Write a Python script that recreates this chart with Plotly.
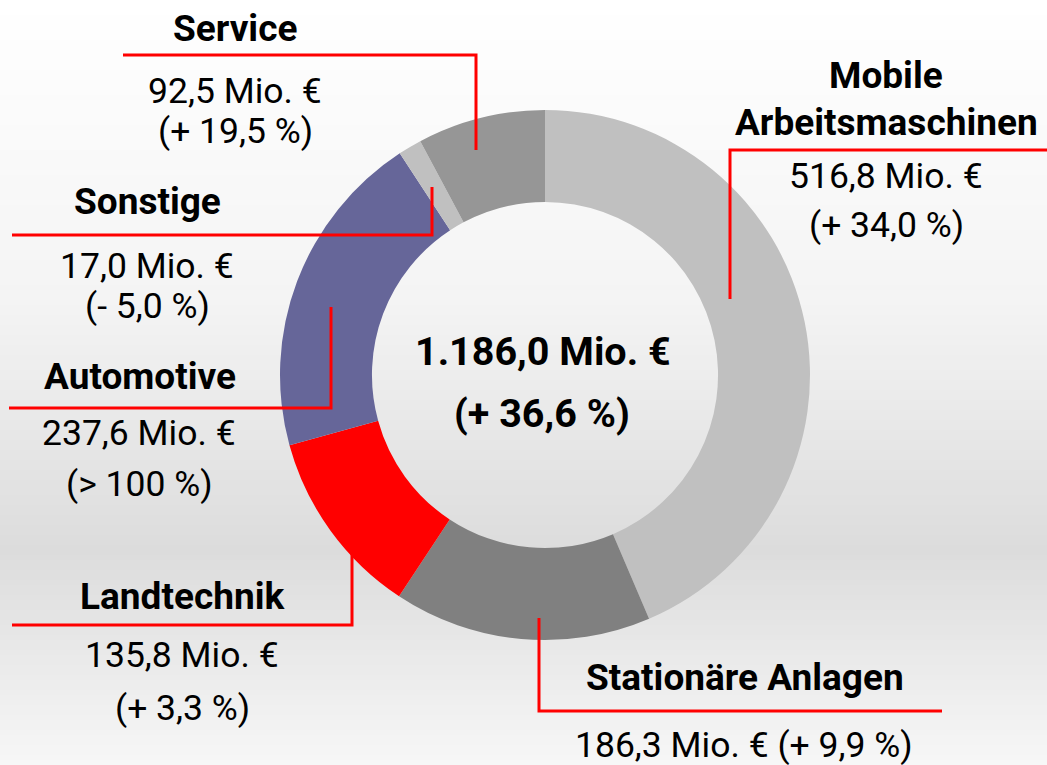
import plotly.graph_objects as go

W, H = 1047, 765

# Umsatz nach Segmenten (Mio. EUR), im Uhrzeigersinn ab 12 Uhr
segments = ["Mobile Arbeitsmaschinen", "Stationäre Anlagen", "Landtechnik",
            "Automotive", "Sonstige", "Service"]
values = [516.8, 186.3, 135.8, 237.6, 17.0, 92.5]
changes = ["+ 34,0 %", "+ 9,9 %", "+ 3,3 %", "> 100 %", "- 5,0 %", "+ 19,5 %"]
colors = ["#c0c0c0", "#808080", "#ff0000", "#666699", "#c0c0c0", "#969696"]
total_text = "1.186,0 Mio. €"
total_change = "+ 36,6 %"

FONT = "Roboto, Liberation Sans, Arial, sans-serif"


def px(x):
    return x / W


def py(y):
    return 1 - y / H


def mio(v):
    return f"{v:.1f}".replace(".", ",") + " Mio. €"


fig = go.Figure()

fig.add_trace(go.Pie(
    labels=segments,
    values=values,
    marker=dict(colors=colors, line=dict(width=0)),
    hole=0.653,
    sort=False,
    direction="clockwise",
    rotation=0,
    textinfo="none",
    hoverinfo="label+value",
    showlegend=False,
    domain=dict(x=[px(280), px(810)], y=[py(640), py(110)]),
))

# background gradient (white -> grey -> light)
stops = [(0, 255), (300, 244), (550, 220), (765, 247)]
shapes = []
step = 5
for y0 in range(0, H, step):
    ym = y0 + step / 2
    for (a, ca), (b, cb) in zip(stops[:-1], stops[1:]):
        if a <= ym <= b:
            c = int(round(ca + (cb - ca) * (ym - a) / (b - a)))
            break
    shapes.append(dict(type="rect", xref="paper", yref="paper", layer="below",
                       x0=0, x1=1, y0=py(y0 + step), y1=py(y0),
                       fillcolor=f"rgb({c},{c},{c})", line=dict(width=0)))

# red leader lines (polylines in pixel coordinates)
leaders = [
    [(123, 55), (476, 55), (476, 150)],      # Service
    [(12, 235), (432, 235), (432, 187)],     # Sonstige
    [(9, 408), (331, 408), (331, 307)],      # Automotive
    [(12, 625), (352, 625), (352, 553)],     # Landtechnik
    [(1047, 150), (730, 150), (730, 299)],   # Mobile Arbeitsmaschinen
    [(539, 618), (539, 711), (942, 711)],    # Stationäre Anlagen
]
for pts in leaders:
    path = "M " + " L ".join(f"{px(x)},{py(y)}" for x, y in pts)
    shapes.append(dict(type="path", xref="paper", yref="paper", path=path,
                       line=dict(color="#ff0000", width=3)))

fig.update_layout(shapes=shapes)

BOLD, REG, BIG = 37, 35.5, 39.5


def label(text, x, baseline, size=REG, bold=False):
    t = f"<b>{text}</b>" if bold else text
    fig.add_annotation(text=t, x=px(x), y=py(baseline - 0.33 * size),
                       xref="paper", yref="paper", xanchor="center",
                       yanchor="middle", showarrow=False,
                       font=dict(family=FONT, size=size, color="#000000"))


# Service
label("Service", 235, 41, BOLD, True)
label(mio(values[5]), 235, 103)
label(f"({changes[5]})", 235, 143)
# Sonstige
label("Sonstige", 147, 214, BOLD, True)
label(mio(values[4]), 147, 278)
label(f"({changes[4]})", 147, 318)
# Automotive
label("Automotive", 140, 389, BOLD, True)
label(mio(values[3]), 139, 445)
label(f"({changes[3]})", 139, 496)
# Landtechnik
label("Landtechnik", 182, 609, BOLD, True)
label(mio(values[2]), 182, 667)
label(f"({changes[2]})", 182, 720)
# Mobile Arbeitsmaschinen
label("Mobile", 886, 88, BOLD, True)
label("Arbeitsmaschinen", 886, 135, BOLD, True)
label(mio(values[0]), 886, 188)
label(f"({changes[0]})", 886, 237)
# Stationäre Anlagen
label("Stationäre Anlagen", 745, 690, BOLD, True)
label(f"{mio(values[1])} ({changes[1]})", 744, 757)
# Gesamt
label(total_text, 543, 365, BIG, True)
label(f"({total_change})", 542, 427, BIG, True)

fig.update_layout(
    width=W, height=H,
    margin=dict(l=0, r=0, t=0, b=0),
    paper_bgcolor="#ffffff",
    plot_bgcolor="rgba(0,0,0,0)",
    font=dict(family=FONT),
)

fig.write_html("out.html", config={"displayModeBar": False},
               post_script="document.body.style.margin = '0';")
